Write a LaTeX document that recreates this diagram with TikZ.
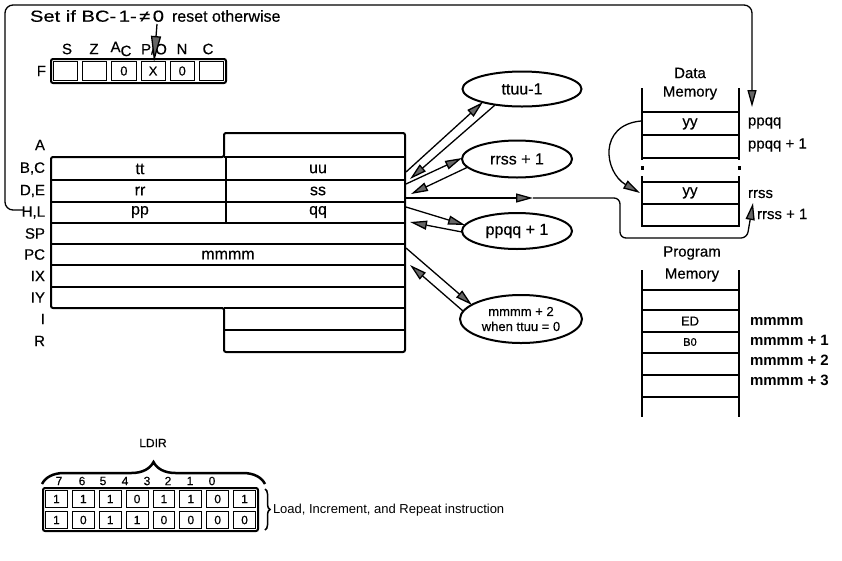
\documentclass[tikz,border=0pt]{standalone}
\usepackage{fontspec}
\setmainfont{Liberation Sans}
\newfontfamily\hv{Liberation Sans}[FakeBold=0.4]
\usetikzlibrary{arrows.meta,shapes.geometric,decorations.pathreplacing}
\begin{document}
\begin{tikzpicture}[x=1pt,y=-1pt,
  every node/.style={inner sep=0pt,outer sep=0pt},
  f11/.style={font=\hv\fontsize{11}{13}\selectfont},
  f12/.style={font=\hv\fontsize{12}{14}\selectfont},
  f13/.style={font=\hv\fontsize{13}{15}\selectfont},
  f15/.style={font=\hv\fontsize{15}{17}\selectfont},
  f16/.style={font=\hv\fontsize{16}{18}\selectfont},
  fb15/.style={font=\fontsize{15}{17}\selectfont\bfseries},
  frame/.style={line width=2pt},
  rowline/.style={line width=1.5pt},
  conn/.style={line width=1.3pt},
  arr/.style={conn,-{Triangle[length=17pt,width=9pt,fill=black!60]}},
  bigarr/.style={conn,-{Triangle[length=26pt,width=10pt,fill=black!60]}},
  oval/.style={ellipse,draw,line width=2pt,align=center},
  brc/.style={decorate,line width=2.5pt}]
\useasboundingbox (0,0) rectangle (842,560);

% ---------- top text and flags ----------
\node[f16,anchor=west] (settxt) at (30,16) {\scalebox{1.26}[1]{Set if BC-\hspace{2pt}1-\hspace{2pt}≠\hspace{2pt}0}};
\node[f16,anchor=west] (settxt2) at (172,16) {reset otherwise};
\node[f15] (fS) at (67,49) {S};
\node[f15] (fZ) at (94,49) {Z};
\node[f15] (fAC) at (121,49) {A\raisebox{-4pt}{C}};
\node[f15] (fPO) at (154,49) {P/O};
\node[f15] (fN) at (182,49) {N};
\node[f15] (fC) at (208,49) {C};
\node[f15,anchor=east] (fF) at (46,71) {F};
\coordinate (poA) at (157,24);
\coordinate (poTip) at (154,62);
\draw[bigarr] (poA) -- (poTip);

\draw[frame,rounded corners=2pt] (51,59) rectangle (226,83);
\foreach \i/\v in {0/,1/,2/0,3/X,4/0,5/} {
  \draw[line width=1pt] ({53.5+\i*29.167},61.5) rectangle ({51+(\i+1)*29.167-2.5},80.5);
  \node[f13] (fc\i) at ({65.58+\i*29.167},71) {\v};
}

% ---------- register block ----------
\draw[frame,rounded corners=2pt] (51,157) -- (224,157) -- (224,133) -- (405,133) -- (405,352) -- (224,352) -- (224,308) -- (51,308) -- cycle;
\foreach \y in {180,202,223,244,265,287} \draw[rowline] (51,\y) -- (405,\y);
\draw[rowline] (224,157) -- (405,157);
\draw[rowline] (224,308) -- (405,308);
\draw[rowline] (224,330) -- (405,330);
\draw[rowline] (226,157) -- (226,223);

\foreach \n/\t/\y in {rA/A/145,rBC/{B,C}/168.5,rDE/{D,E}/191,rHL/{H,L}/212.5,rSP/SP/233.5,rPC/PC/254.5,rIX/IX/276,rIY/IY/297.5,rI/I/319,rR/R/341}
  \node[f15,anchor=east] (\n) at (45,\y) {\t};

\node[f16] (vtt) at (140,169) {tt};
\node[f16] (vuu) at (318,169) {uu};
\node[f16] (vrr) at (140,191) {rr};
\node[f16] (vss) at (318,191) {ss};
\node[f16] (vpp) at (140,212) {pp};
\node[f16] (vqq) at (318,212) {qq};
\node[f16] (vmm) at (228,255) {mmmm};

% ---------- ellipses ----------
\node[oval,f16,minimum width=119pt,minimum height=35pt] (e1) at (522,89) {ttuu-1};
\node[oval,f16,minimum width=110pt,minimum height=37pt] (e2) at (517,159) {rrss + 1};
\node[oval,f16,minimum width=110pt,minimum height=36pt] (e3) at (517,231) {ppqq + 1};
\node[oval,f13,minimum width=122pt,minimum height=48pt] (e4) at (521,319) {mmmm + 2\\when ttuu = 0};

\coordinate (bc1) at (406,172);  \coordinate (e1in) at (483,102);
\coordinate (e1out) at (495,105); \coordinate (bc2) at (410,179);
\coordinate (de1) at (406,184);  \coordinate (e2in) at (462,158);
\coordinate (e2out) at (468,167); \coordinate (de2) at (411,194);
\coordinate (hl1) at (406,207);  \coordinate (e3in) at (465,225);
\coordinate (e3out) at (462,232); \coordinate (hl2) at (410,222);
\coordinate (pc1) at (406,248);  \coordinate (e4in) at (472,305);
\coordinate (e4out) at (463,311); \coordinate (pc2) at (410,265);
\draw[arr] (bc1) -- (e1in);
\draw[arr] (e1out) -- (bc2);
\draw[arr] (de1) -- (e2in);
\draw[arr] (e2out) -- (de2);
\draw[arr] (hl1) -- (e3in);
\draw[arr] (e3out) -- (hl2);
\draw[arr] (pc1) -- (e4in);
\draw[arr] (e4out) -- (pc2);

% ---------- HL -> ppqq frame line ----------
\coordinate (hlEnd) at (23,210);
\coordinate (ppqqIn) at (752,107);
\draw[arr,rounded corners=8pt] (hlEnd) -- (5,210) -- (5,5) -- (752,5) -- (ppqqIn);

% ---------- DE -> rrss line ----------
\coordinate (deOut) at (405,198);
\coordinate (deMid) at (533,198);
\coordinate (rrssIn) at (753,203);
\draw[arr] (deOut) -- (deMid);
\draw[arr,rounded corners=6pt] (deMid) -- (620,198) -- (620,238) -- (747,238) -- (rrssIn);

% ---------- data memory ----------
\node[f15] (dmT1) at (690,73) {Data};
\node[f15] (dmT2) at (690,93) {Memory};
\draw[frame] (642,88) -- (642,160);
\draw[frame] (642,176) -- (642,226);
\draw[frame] (739,88) -- (739,160);
\draw[frame] (739,176) -- (739,226);
\fill (640.5,166) rectangle (643.5,170);
\fill (737.5,166) rectangle (740.5,170);
\foreach \y in {112,135,158,182,204} \draw[rowline] (642,\y) -- (739,\y);
\draw[frame] (641,226) -- (740,226);
\node[f15] (yy1) at (690,124) {yy};
\node[f15] (yy2) at (690,193) {yy};
\node[f15,anchor=west] (lppqq) at (748,123) {ppqq};
\node[f15,anchor=west] (lppqq1) at (748,145) {ppqq + 1};
\node[f15,anchor=west] (lrrss) at (748,194) {rrss};
\node[f15,anchor=west] (lrrss1) at (757,214) {rrss + 1};
\coordinate (yy1L) at (641,121);
\coordinate (yy2L) at (640,193);
\draw[arr] (yy1L) .. controls (598,125) and (604,172) .. (yy2L);

% ---------- program memory ----------
\node[f15] (pmT1) at (692,253) {Program};
\node[f15] (pmT2) at (692,275) {Memory};
\draw[frame] (642,270) -- (642,417);
\draw[frame] (739,270) -- (739,417);
\foreach \y in {290,310,332,353,375,397} \draw[rowline] (642,\y) -- (739,\y);
\node[f13] (pED) at (690,321) {ED};
\node[f11] (pB0) at (690,342) {B0};
\node[fb15,anchor=west] (m0) at (750,321) {mmmm};
\node[fb15,anchor=west] (m1) at (750,340) {mmmm + 1};
\node[fb15,anchor=west] (m2) at (750,360) {mmmm + 2};
\node[fb15,anchor=west] (m3) at (750,380) {mmmm + 3};

% ---------- LDIR ----------
\node[f12] (ldir) at (153,443) {LDIR};
\draw[brc,decoration={brace,amplitude=22pt}] (42,484) -- (265,484);
\foreach \n/\x in {7/59,6/82,5/103,4/125,3/147,2/168,1/190,0/212}
  \node[f12] (bn\n) at (\x,481) {\n};
\draw[frame,rounded corners=2pt] (43,488) rectangle (258,531);
\foreach \d [count=\i from 0] in {1,1,1,0,1,1,0,1} {
  \draw[line width=1pt] ({45.5+\i*26.875},490.5) rectangle ({43+(\i+1)*26.875-2.5},507.5);
  \node[f12] (ra\i) at ({56.44+\i*26.875},499) {\d};
}
\foreach \d [count=\i from 0] in {1,0,1,1,0,0,0,0} {
  \draw[line width=1pt] ({45.5+\i*26.875},511.5) rectangle ({43+(\i+1)*26.875-2.5},528.5);
  \node[f12] (rb\i) at ({56.44+\i*26.875},520) {\d};
}
\draw[decorate,line width=1.5pt,decoration={brace,amplitude=5pt}] (265,489) -- (265,530);
\node[font=\fontsize{13}{15}\selectfont,anchor=west] (ldirtxt) at (273,510) {Load, Increment, and Repeat instruction};
\end{tikzpicture}
\end{document}
